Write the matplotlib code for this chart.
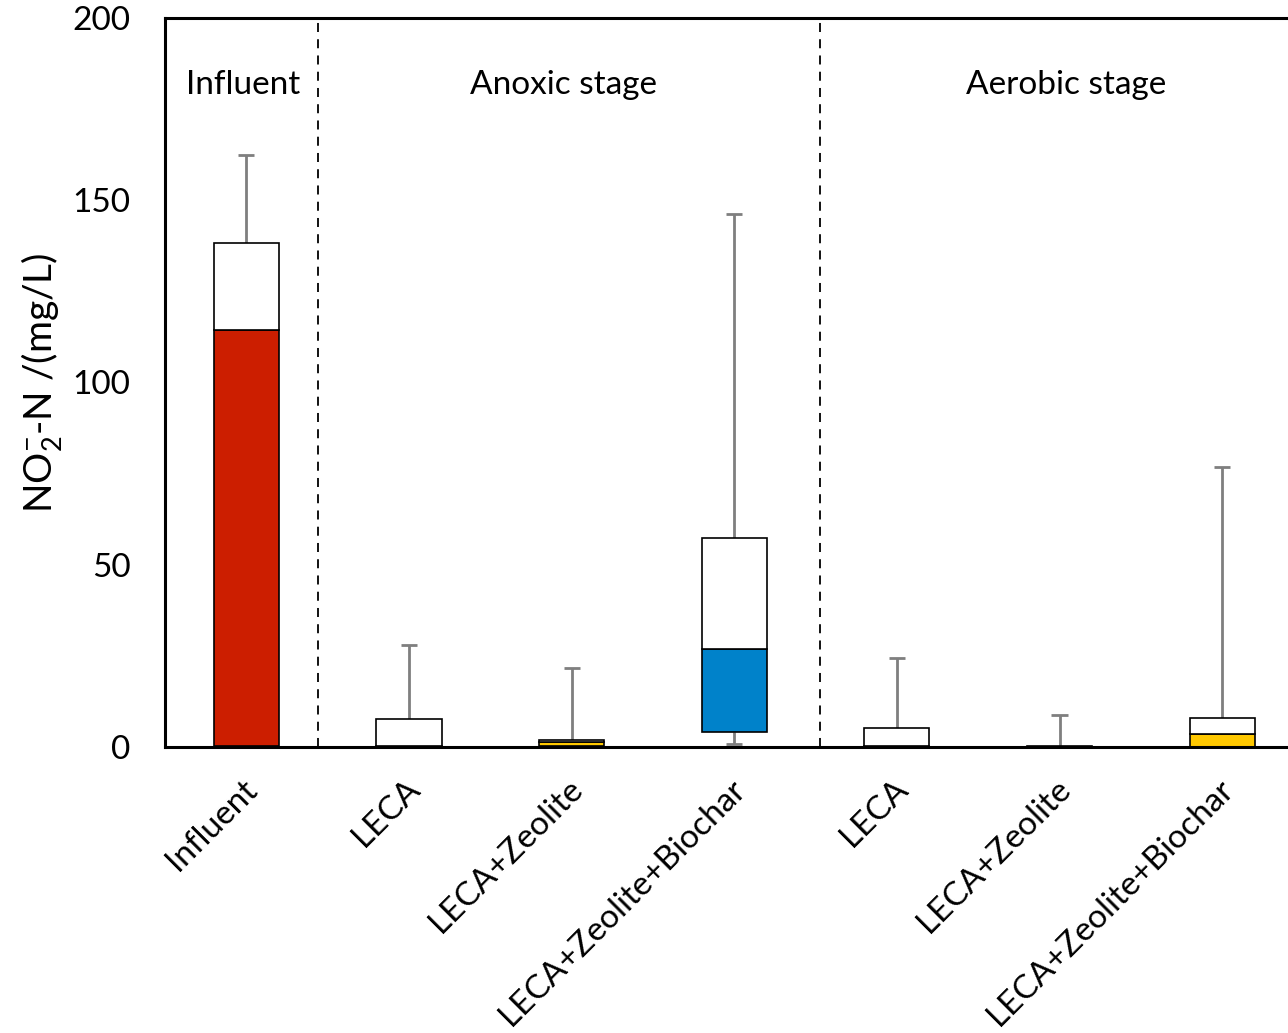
import matplotlib
matplotlib.use('Agg')
import matplotlib.pyplot as plt
import numpy as np

plt.rcParams['font.family'] = ['Lato', 'DejaVu Sans']
plt.rcParams['mathtext.fontset'] = 'custom'
plt.rcParams['mathtext.rm'] = 'Lato'

# box data: min, Q1, median, Q3, max (mg/L)
labels = ['Influent', 'LECA', 'LECA+Zeolite', 'LECA+Zeolite+Biochar',
          'LECA', 'LECA+Zeolite', 'LECA+Zeolite+Biochar']
q_min = [0.0, 0.0, 0.0, 0.9, 0.0, 0.0, 0.0]
q1 = [0.3, 0.0, 0.2, 4.1, 0.0, 0.0, 0.0]
median = [114.3, 0.3, 1.3, 26.8, 0.3, 0.1, 3.6]
q3 = [138.4, 7.8, 2.0, 57.3, 5.3, 0.3, 8.0]
q_max = [162.4, 27.9, 21.6, 146.2, 24.5, 8.7, 76.8]
fill_colors = ['#CC1E00', '#FFFFFF', '#FFC800', '#0082CA', '#FFFFFF', '#FFFFFF', '#FFC800']

stage_names = ['Influent', 'Anoxic stage', 'Aerobic stage']
stage_x = [-0.02, 1.95, 5.04]
divider_x = [0.44, 3.53]

fig = plt.figure(figsize=(12.88, 10.33), dpi=100)
ax = fig.add_axes([0.1281, 0.2769, 0.884, 0.7057])

x = np.arange(len(labels))
q_min = np.array(q_min); q1 = np.array(q1); median = np.array(median)
q3 = np.array(q3); q_max = np.array(q_max)

width = 0.4
cap = 0.05
whisk = '#7F7F7F'

# whiskers
ax.vlines(x, q_min, q1, color=whisk, lw=2, zorder=1)
ax.vlines(x, q3, q_max, color=whisk, lw=2, zorder=1)
ax.hlines(q_min, x - cap, x + cap, color=whisk, lw=2, zorder=1)
ax.hlines(q_max, x - cap, x + cap, color=whisk, lw=2, zorder=1)

# stacked boxes
ax.bar(x, median - q1, bottom=q1, width=width, color=fill_colors,
       edgecolor='black', linewidth=1.2, zorder=2)
ax.bar(x, q3 - median, bottom=median, width=width, color='white',
       edgecolor='black', linewidth=1.2, zorder=2)

for d in divider_x:
    ax.axvline(d, color='black', lw=1.3, linestyle=(0, (5, 4)), zorder=0)

for name, sx in zip(stage_names, stage_x):
    ax.text(sx, 181.5, name, ha='center', va='center', fontsize=24)

ax.set_xlim(-0.5, 6.5)
ax.set_ylim(0, 200)
ax.set_yticks([0, 50, 100, 150, 200])
# labels hang from a point a little right of each box centre
ax.set_xticks(x + 0.04)
ax.set_xticklabels(labels, rotation=45, ha='right', va='center',
                   rotation_mode='anchor', fontsize=24)
ax.tick_params(axis='both', length=0, labelsize=24)
ax.tick_params(axis='y', pad=25)
ax.tick_params(axis='x', pad=27)
ax.set_ylabel(r'NO$_\mathregular{2}^\mathregular{-}$-N /(mg/L)', fontsize=28, labelpad=5)

for s in ['left', 'bottom', 'top']:
    ax.spines[s].set_linewidth(2.2)
ax.spines['right'].set_visible(False)

fig.savefig('out.png', dpi=100)
